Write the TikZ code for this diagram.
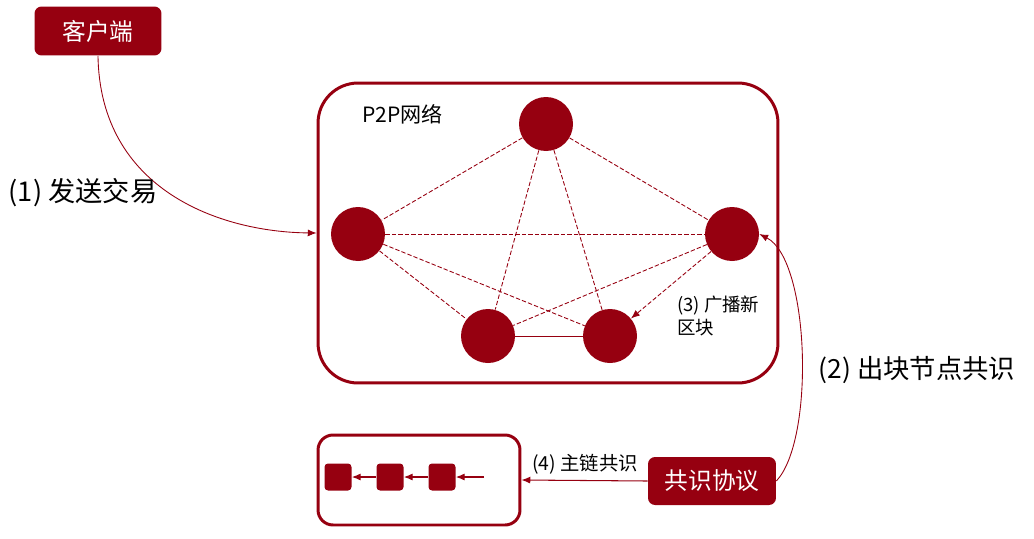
\documentclass[tikz,border=0pt]{standalone}
\usepackage{fontspec}
\setmainfont{Noto Sans CJK SC}
\usetikzlibrary{arrows.meta}
\definecolor{bred}{HTML}{960010}
\tikzset{
  peer/.style={circle, fill=bred, minimum size=1.08cm, inner sep=0pt},
  blk/.style={fill=bred, rounded corners=2pt, minimum size=0.54cm, inner sep=0pt},
  redbox/.style={fill=bred, rounded corners=4pt, text=white, font=\fontsize{13.5}{16}\selectfont},
  link/.style={bred, line width=0.5pt, dash pattern=on 2.5pt off 1.2pt},
  lbl/.style={font=\fontsize{11}{14}\selectfont, align=left}
}
\begin{document}
\begin{tikzpicture}[x=0.02cm, y=-0.02cm, >={Latex[length=5pt,width=4pt]}]
\useasboundingbox (0,0) rectangle (1034,538);
% boxes
\node[draw=bred, line width=1.7pt, rounded corners=0.8cm, minimum width=9.2cm, minimum height=6cm] (net) at (548,233) {};
\node[draw=bred, line width=1.7pt, rounded corners=0.3cm, minimum width=4.04cm, minimum height=1.8cm] (chain) at (419,480) {};
\node[redbox, minimum width=2.54cm, minimum height=0.98cm] (client) at (98,31) {客户端};
\node[redbox, minimum width=2.56cm, minimum height=0.96cm] (cons) at (712,481) {共识协议};
\node[lbl, anchor=west, font=\fontsize{12}{14}\selectfont] (p2p) at (356,114) {P2P网络};
% peers
\node[peer] (top) at (546,124) {};
\node[peer] (lft) at (358,234) {};
\node[peer] (rgt) at (732,234) {};
\node[peer] (bl) at (488,336) {};
\node[peer] (br) at (610,336) {};
\foreach \a/\b in {top/lft, top/rgt, top/bl, top/br, lft/rgt, lft/br, lft/bl, rgt/bl} {
  \draw[link] (\a) -- (\b);}
\draw[bred, line width=0.5pt] (bl) -- (br);
\draw[link, ->] (rgt) -- (br);
\node[lbl, anchor=north west, font=\fontsize{10.5}{13}\selectfont] (bcast) at (671,290) {(3) 广播新\\区块};
% chain
\node[blk] (b1) at (338,477) {};
\node[blk] (b2) at (390,477) {};
\node[blk] (b3) at (442,477) {};
\coordinate (tail) at (484,477);
\draw[bred, line width=0.6pt, ->] (tail) -- (b3);
\draw[bred, line width=0.6pt, ->] (b3) -- (b2);
\draw[bred, line width=0.6pt, ->] (b2) -- (b1);
% flows
\draw[bred, line width=0.5pt, ->] (client.south) .. controls (100,190) and (220,232) .. (net.west);
\node[font=\fontsize{15.5}{18}\selectfont] (send) at (83,193) {(1) 发送交易};
\draw[bred, line width=0.5pt, ->] (cons.east) .. controls (815,440) and (810,260) .. (rgt.east);
\node[font=\fontsize{15}{18}\selectfont] (mine) at (917,370) {(2) 出块节点共识};
\draw[bred, line width=0.6pt, ->] (cons.west) -- (chain.east);
\node[lbl] (main) at (585,464) {(4) 主链共识};
\end{tikzpicture}
\end{document}
